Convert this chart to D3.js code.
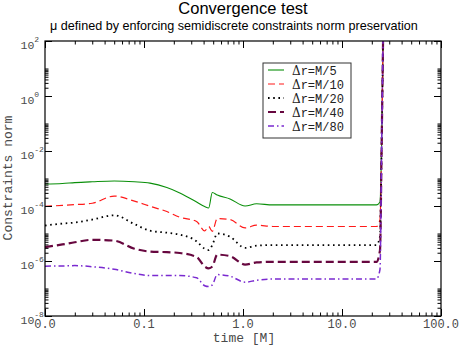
<!DOCTYPE html>
<html>
<head>
<meta charset="utf-8">
<script src="https://cdn.jsdelivr.net/npm/d3@7"></script>
<style>
  html, body { margin: 0; padding: 0; background: #fff; }
  svg { display: block; }
</style>
</head>
<body>
<svg id="chart" width="462" height="346"></svg>
<script>
// ---------------- data ----------------
const times = [0.01, 0.015, 0.02, 0.03, 0.05, 0.08, 0.115, 0.17, 0.23, 0.34, 0.41, 0.45, 0.49, 0.55, 0.74, 1.05, 1.37, 2.0, 5.0, 10.0, 22.3, 24.2, 25.2, 26.2];

const seriesNames = ["\u0394r=M/5", "\u0394r=M/10", "\u0394r=M/20", "\u0394r=M/40", "\u0394r=M/80"];

const normM5  = [6.3e-4, 6.6e-4, 7.1e-4, 7.6e-4, 8.1e-4, 7.6e-4, 6.8e-4, 4.7e-4, 3.0e-4, 1.4e-4, 9.5e-5, 8.5e-5, 3.1e-4, 2.5e-4, 1.8e-4, 1.0e-4, 1.2e-4, 1.1e-4, 1.1e-4, 1.1e-4, 1.1e-4, 1.4e-4, 3.0e-2, 1.0e3];
const normM10 = [9.8e-5, 1.05e-4, 1.12e-4, 1.26e-4, 2.3e-4, 1.5e-4, 9.8e-5, 6.3e-5, 3.9e-5, 2.75e-5, 1.25e-5, 1.8e-5, 1.2e-5, 3.5e-5, 3.2e-5, 1.6e-5, 2.0e-5, 1.8e-5, 1.8e-5, 1.8e-5, 1.8e-5, 3.2e-5, 3.0e-2, 1.0e3];
const normM20 = [1.95e-5, 2.3e-5, 2.5e-5, 3.2e-5, 4.6e-5, 2.2e-5, 1.26e-5, 1.07e-5, 9.1e-6, 5.2e-6, 2.8e-6, 2.5e-6, 3.8e-6, 1.0e-5, 7.6e-6, 3.0e-6, 3.6e-6, 3.8e-6, 3.8e-6, 3.8e-6, 3.8e-6, 7.9e-6, 3.0e-2, 1.0e3];
const normM40 = [3.2e-6, 4.0e-6, 4.8e-6, 5.9e-6, 5.5e-6, 2.8e-6, 2.2e-6, 2.1e-6, 1.95e-6, 1.4e-6, 6.3e-7, 5.4e-7, 6.3e-7, 1.7e-6, 1.5e-6, 7.4e-7, 8.9e-7, 9.3e-7, 9.3e-7, 9.3e-7, 9.3e-7, 2.5e-6, 3.0e-2, 1.0e3];
const normM80 = [6.5e-7, 6.6e-7, 6.8e-7, 6.2e-7, 5.0e-7, 3.5e-7, 2.95e-7, 2.95e-7, 2.95e-7, 2.45e-7, 1.26e-7, 1.17e-7, 1.35e-7, 3.2e-7, 2.8e-7, 1.7e-7, 2.0e-7, 2.2e-7, 2.2e-7, 2.2e-7, 2.2e-7, 5.0e-7, 3.0e-2, 1.0e3];

const xTickValues = [0.01, 0.1, 1, 10, 100];
const xTickLabels = ["0.0", "0.1", "1.0", "10.0", "100.0"];
const yTickExponents = [2, 0, -2, -4, -6, -8];

// ---------------- layout ----------------
const svg = d3.select("#chart");
const L = 45, R = 441, T = 41, B = 316;
const x = d3.scaleLog().domain([0.01, 100]).range([L, R]);
const y = d3.scaleLog().domain([1e-8, 1e2]).range([B, T]);

const styles = [
  { color: "#0a8f0a", width: 1.1, dash: null },
  { color: "#ff1a1a", width: 1.2, dash: "7,4" },
  { color: "#000000", width: 1.8, dash: "1.6,3.6" },
  { color: "#67073f", width: 2.2, dash: "8,4" },
  { color: "#7a2ad0", width: 1.5, dash: "6,3,1.5,3" }
];
const allSeries = [normM5, normM10, normM20, normM40, normM80];

// title
svg.append("text").attr("x", 243).attr("y", 14).attr("text-anchor", "middle")
  .attr("font-family", "Liberation Sans, Arial, sans-serif").attr("font-size", 16.5)
  .text("Convergence test");
svg.append("text").attr("x", 234).attr("y", 30).attr("text-anchor", "middle")
  .attr("font-family", "Liberation Sans, Arial, sans-serif").attr("font-size", 12.6)
  .text("\u03bc defined by enforcing semidiscrete constraints norm preservation");

// clip
svg.append("clipPath").attr("id", "clip").append("rect")
  .attr("x", L).attr("y", T).attr("width", R - L).attr("height", B - T);

// lines
const line = d3.line().x((d, i) => x(times[i])).y(d => y(d)).curve(d3.curveMonotoneX);
const g = svg.append("g").attr("clip-path", "url(#clip)");
allSeries.forEach((s, k) => {
  g.append("path").datum(s).attr("d", line)
    .attr("fill", "none").attr("stroke", styles[k].color)
    .attr("stroke-width", styles[k].width)
    .attr("stroke-dasharray", styles[k].dash)
    .attr("stroke-linejoin", "round");
});

// frame
svg.append("rect").attr("x", L).attr("y", T).attr("width", R - L).attr("height", B - T)
  .attr("fill", "none").attr("stroke", "#000").attr("stroke-width", 1.2);

// axes ticks via d3 axes (inward)
const xMinor = [];
[0.01, 0.1, 1, 10].forEach(d => { for (let k = 2; k <= 9; k++) xMinor.push(d * k); });
const yMinor = [];
yTickExponents.forEach(e => { if (e < 2) for (let k = 2; k <= 10; k++) yMinor.push(k * Math.pow(10, e)); });
const yMajor = yTickExponents.map(e => Math.pow(10, e));

function tickAxis(axisFn, scale, vals, size, tx, ty) {
  const a = axisFn(scale).tickValues(vals).tickSize(size).tickFormat("");
  const gg = svg.append("g").attr("transform", `translate(${tx},${ty})`).call(a);
  gg.select(".domain").remove();
  gg.selectAll("line").attr("stroke", "#000").attr("stroke-width", 1);
  return gg;
}
tickAxis(d3.axisTop, x, xTickValues, 7, 0, B);
tickAxis(d3.axisTop, x, xMinor, 3.5, 0, B);
tickAxis(d3.axisBottom, x, xTickValues, 7, 0, T);
tickAxis(d3.axisBottom, x, xMinor, 3.5, 0, T);
tickAxis(d3.axisRight, y, yMajor, 7, L, 0);
tickAxis(d3.axisRight, y, yMinor, 3.5, L, 0);
tickAxis(d3.axisLeft, y, yMajor, 7, R, 0);
tickAxis(d3.axisLeft, y, yMinor, 3.5, R, 0);

const labColor = "#4a4a4a";
const mono = "Liberation Mono, Courier New, monospace";

// x tick labels
xTickValues.forEach((v, i) => {
  svg.append("text").attr("x", x(v)).attr("y", 328).attr("text-anchor", "middle")
    .attr("font-family", mono).attr("font-size", 12).attr("fill", labColor)
    .text(xTickLabels[i]);
});
// y tick labels
yTickExponents.forEach(e => {
  const t = svg.append("text").attr("x", 20.5).attr("y", y(Math.pow(10, e)) + 8)
    .attr("font-family", mono).attr("font-size", 11.5).attr("fill", labColor);
  t.append("tspan").text("10");
  t.append("tspan").attr("font-size", 8).attr("dy", -7.5).text(String(e));
});

// axis titles
svg.append("text").attr("x", 244).attr("y", 342).attr("text-anchor", "middle")
  .attr("font-family", mono).attr("font-size", 13).attr("fill", labColor).text("time [M]");
svg.append("text").attr("transform", "translate(11.5,178) rotate(-90)").attr("text-anchor", "middle")
  .attr("font-family", mono).attr("font-size", 13).attr("fill", labColor).text("Constraints norm");

// legend
const lg = svg.append("g");
lg.append("rect").attr("x", 263).attr("y", 63).attr("width", 88).attr("height", 75)
  .attr("fill", "#fff").attr("stroke", "#333").attr("stroke-width", 1);
const rowY = d3.scaleLinear().domain([0, 4]).range([70, 126]);
seriesNames.forEach((name, k) => {
  const yy = rowY(k);
  lg.append("line").attr("x1", 268).attr("x2", 284).attr("y1", yy).attr("y2", yy)
    .attr("stroke", styles[k].color).attr("stroke-width", styles[k].width)
    .attr("stroke-dasharray", styles[k].dash);
  const t = lg.append("text").attr("x", 292).attr("y", yy + 4.5)
    .attr("font-family", mono).attr("font-size", 12).attr("fill", "#222");
  t.append("tspan").attr("font-family", "DejaVu Serif, serif").attr("font-size", 12).text(name.slice(0, 1));
  t.append("tspan").text(name.slice(1));
});
</script>
</body>
</html>
